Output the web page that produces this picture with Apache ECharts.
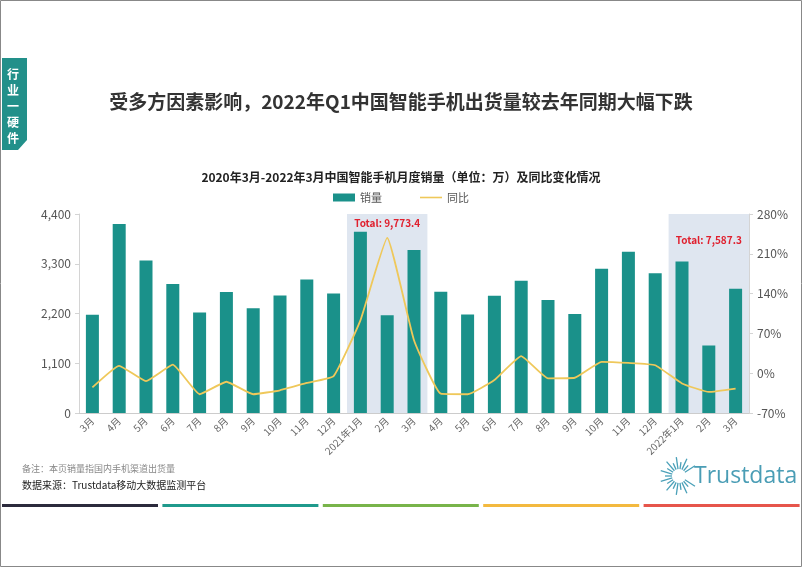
<!DOCTYPE html>
<html>
<head>
<meta charset="utf-8">
<script src="https://cdn.jsdelivr.net/npm/echarts@6/dist/echarts.min.js"></script>
<style>
  html, body { margin: 0; padding: 0; background: #fff; }
  #chartBox { width: 802px; height: 567px; }
</style>
</head>
<body>
<div id="chartBox"></div>
<script>
// 月份
const months = ['3月', '4月', '5月', '6月', '7月', '8月', '9月', '10月', '11月', '12月',
  '2021年1月', '2月', '3月', '4月', '5月', '6月', '7月', '8月', '9月', '10月', '11月', '12月',
  '2022年1月', '2月', '3月'];
// 销量（万）
const sales = [2170, 4180, 3370, 2850, 2220, 2675, 2315, 2600, 2950, 2640,
  4010, 2160, 3603, 2680, 2180, 2595, 2925, 2500, 2190, 3190, 3565, 3090,
  3350, 1490, 2747];
// 同比（%）
const yoy = [-25, 13, -14, 15, -37, -15, -37, -30, -17, -5,
  93, 238, 58, -36, -37, -12, 30, -9, -8, 20, 18, 14,
  -18, -33, -27];
const leftTicks = [0, 1100, 2200, 3300, 4400];
const rightTicks = [-70, 0, 70, 140, 210, 280];
// 季度合计（起始月，3个月）
const totals = [
  { from: '2021年1月', text: 'Total: 9,773.4', dist: 4 },
  { from: '2022年1月', text: 'Total: 7,587.3', dist: 21 }
];

const teal = '#1a918a';
const yellow = '#efc85a';

// logo sunburst rays
const rays = [];
for (let i = 0; i < 22; i++) {
  const a = (i / 22) * Math.PI * 2;
  if (Math.abs(Math.cos(a)) > 0.93 && Math.cos(a) > 0) continue;
  const r1 = 7, r2 = (i % 2 === 0) ? 19 : 14;
  rays.push({
    type: 'line',
    shape: { x1: 679 + Math.cos(a) * r1, y1: 476 + Math.sin(a) * r1, x2: 679 + Math.cos(a) * r2, y2: 476 + Math.sin(a) * r2 },
    style: { stroke: '#4aa0b8', lineWidth: 1.3 }
  });
}

const stripeColors = ['#2b2a3c', '#1f9a8c', '#78b44a', '#f3b93f', '#e6554b'];
const stripes = stripeColors.map((c, i) => ({
  type: 'rect',
  shape: { x: 2 + i * 160.4, y: 504, width: 156, height: 3 },
  style: { fill: c }
}));

const chart = echarts.init(document.getElementById('chartBox'));
chart.setOption({
  animation: false,
  textStyle: { fontFamily: '"Noto Sans CJK SC", "Noto Sans", sans-serif' },
  title: [
    {
      text: '受多方因素影响，2022年Q1中国智能手机出货量较去年同期大幅下跌',
      left: 'center', top: 87,
      textStyle: { fontSize: 19, fontWeight: 'bold', color: '#333' }
    },
    {
      text: '2020年3月-2022年3月中国智能手机月度销量（单位：万）及同比变化情况',
      left: 'center', top: 166,
      textStyle: { fontSize: 12, fontWeight: 'bold', color: '#222' }
    }
  ],
  legend: {
    top: 187, left: 'center',
    itemWidth: 22, itemHeight: 8, itemGap: 38,
    textStyle: { fontSize: 11, color: '#555' },
    data: [
      { name: '销量', icon: 'rect' },
      { name: '同比', icon: 'path://M0,4h22v1.6H0z', itemStyle: { color: yellow } }
    ]
  },
  grid: { left: 79, right: 53, top: 214, bottom: 154 },
  xAxis: {
    type: 'category',
    data: months,
    axisLine: { lineStyle: { color: '#ccc' } },
    axisTick: { show: false },
    axisLabel: { rotate: 45, fontSize: 10, color: '#666', margin: 6, interval: 0 }
  },
  yAxis: [
    {
      type: 'value', min: 0, max: 4400, interval: 1100,
      axisLine: { show: true, lineStyle: { color: '#d4d4d4' } },
      axisTick: { show: true, length: 4, lineStyle: { color: '#d4d4d4' } },
      splitLine: { show: false },
      axisLabel: {
        fontSize: 12, color: '#555', margin: 8,
        formatter: v => leftTicks.includes(v) ? v.toLocaleString('en-US') : ''
      }
    },
    {
      type: 'value', min: -70, max: 280, interval: 70,
      axisLine: { show: true, lineStyle: { color: '#d4d4d4' } },
      axisTick: { show: true, length: 4, lineStyle: { color: '#d4d4d4' } },
      splitLine: { show: false },
      axisLabel: {
        fontSize: 12, color: '#555', margin: 8,
        formatter: v => rightTicks.includes(v) ? v + '%' : ''
      }
    }
  ],
  series: [
    {
      name: '销量', type: 'bar', data: sales,
      barWidth: 13,
      itemStyle: { color: teal },
      markArea: {
        silent: true,
        itemStyle: { color: '#dfe6f0' },
        label: {
          position: 'insideTop', color: '#e0202e', fontWeight: 'bold', fontSize: 10
        },
        data: totals.map(t => {
          const i = months.indexOf(t.from);
          return [
            { xAxis: i, yAxis: 4400, name: t.text, label: { distance: t.dist } },
            { xAxis: i + 2, yAxis: 0 }
          ];
        })
      }
    },
    {
      name: '同比', type: 'line', yAxisIndex: 1, data: yoy,
      smooth: 0.12, symbol: 'none',
      lineStyle: { color: yellow, width: 1.8 },
      itemStyle: { color: yellow }
    }
  ],
  graphic: [
    { type: 'rect', shape: { x: 0.5, y: 0.5, width: 801, height: 566 }, style: { fill: null, stroke: '#888', lineWidth: 1 } },
    { type: 'polygon', shape: { points: [[2, 58], [27, 58], [27, 140], [18, 150], [2, 150]] }, style: { fill: '#22908a' } },
    {
      type: 'text', x: 7, y: 66,
      style: { text: '行\n业\n一\n硬\n件', fill: '#fff', font: 'bold 12px "Noto Sans CJK SC"', lineHeight: 16 }
    },
    {
      type: 'text', x: 22, y: 464,
      style: { text: '备注：本页销量指国内手机渠道出货量', fill: '#888', font: '9px "Noto Sans CJK SC"' }
    },
    {
      type: 'text', x: 22, y: 480,
      style: { text: '数据来源：Trustdata移动大数据监测平台', fill: '#222', font: '10px "Noto Sans CJK SC"' }
    },
    {
      type: 'text', x: 694, y: 465,
      style: { text: 'Trustdata', fill: '#4a9db5', font: '23px "Open Sans", sans-serif' }
    },
    ...rays,
    ...stripes
  ]
});
</script>
</body>
</html>
